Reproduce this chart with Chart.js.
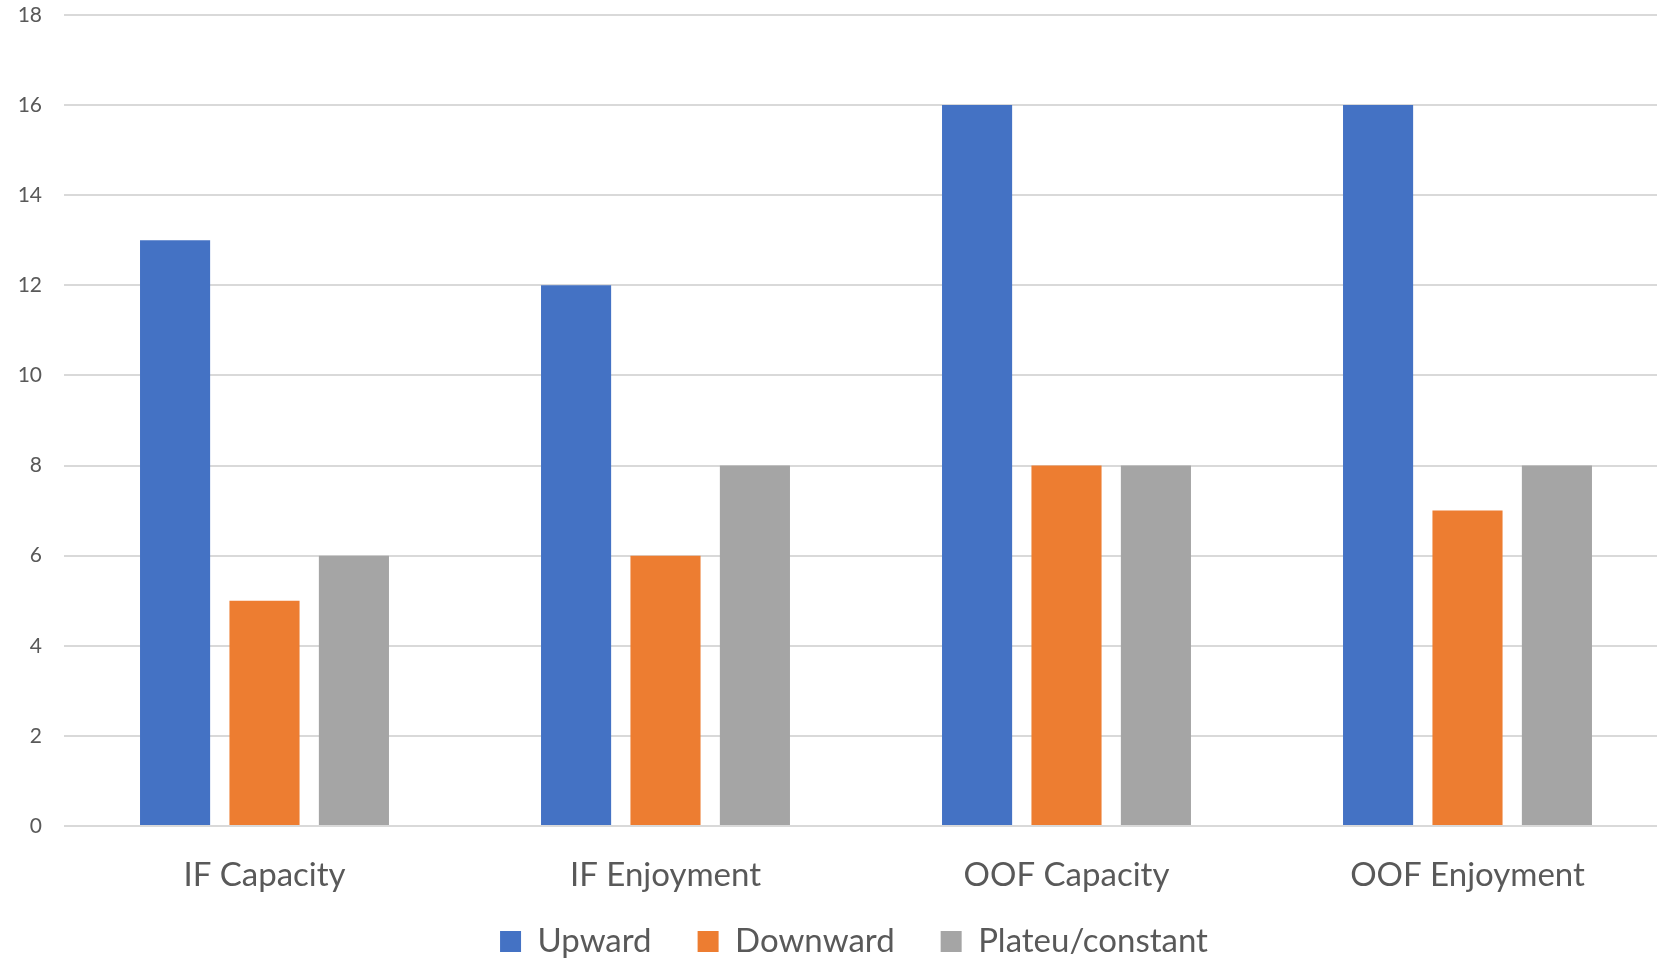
<!DOCTYPE html>
<html>
<head>
<meta charset="utf-8">
<script src="https://cdn.jsdelivr.net/npm/chart.js@4.4.1/dist/chart.umd.min.js"></script>
<style>
  html, body { margin: 0; padding: 0; background: #ffffff; overflow: hidden; }
  #wrap { width: 1668px; height: 959px; position: relative; }
</style>
</head>
<body>
<div id="wrap"><canvas id="trendChart"></canvas></div>
<script>
const categories = ["IF Capacity", "IF Enjoyment", "OOF Capacity", "OOF Enjoyment"];
const upward = [13, 12, 16, 16];
const downward = [5, 6, 8, 7];
const plateau = [6, 8, 8, 8];
const seriesNames = ["Upward", "Downward", "Plateu/constant"];
const seriesColors = ["#4472C4", "#ED7D31", "#A5A5A5"];
const yTicks = { min: 0, max: 18, step: 2 };

const textColor = "#595959";
const fontFamily = "Lato, 'Open Sans', sans-serif";

// nudge the legend a bit to the right/up, like the excel one
const legendShift = {
    id: "legendShift",
    afterLayout(chart) {
        const lg = chart.legend;
        if (!lg) return;
        lg.left += 20;
        lg.right += 20;
        lg.top -= 17;
        lg.bottom -= 17;
    }
};

const ctx = document.getElementById("trendChart").getContext("2d");

const chart = new Chart(ctx, {
    type: "bar",
    data: {
        labels: categories,
        datasets: [upward, downward, plateau].map((vals, i) => ({
            label: seriesNames[i],
            data: vals,
            backgroundColor: seriesColors[i],
            borderWidth: 0,
            categoryPercentage: 0.669,
            barPercentage: 0.784
        }))
    },
    options: {
        responsive: true,
        maintainAspectRatio: false,
        animation: false,
        layout: { padding: { top: 15, right: 0, bottom: -26, left: 0 } },
        plugins: {
            tooltip: { enabled: false },
            legend: {
                position: "bottom",
                labels: {
                    color: textColor,
                    font: { family: fontFamily, size: 33 },
                    boxWidth: 21,
                    boxHeight: 21,
                    padding: 46
                }
            }
        },
        scales: {
            x: {
                grid: { display: false, drawTicks: false },
                border: { display: false },
                ticks: {
                    color: textColor,
                    font: { family: fontFamily, size: 33 },
                    padding: 30,
                    maxRotation: 0
                },
                afterFit: (s) => { s.height = 70; }
            },
            y: {
                min: yTicks.min,
                max: yTicks.max,
                // invisible tick marks give the gap between labels and plot
                grid: { color: "#d9d9d9", lineWidth: 2, drawTicks: true, tickLength: 22, tickColor: "rgba(0,0,0,0)" },
                border: { display: false },
                ticks: {
                    stepSize: yTicks.step,
                    color: textColor,
                    font: { family: fontFamily, size: 21 },
                    padding: 0
                },
                afterFit: (s) => { s.width = 64; }
            }
        }
    },
    plugins: [legendShift]
});
</script>
</body>
</html>
